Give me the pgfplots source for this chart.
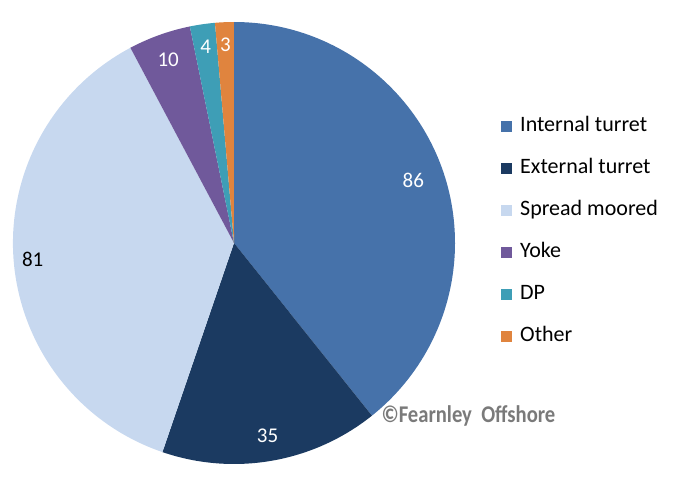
\documentclass[border=0pt]{standalone}
\usepackage{pgfplots}
\usepackage{pgfplotstable}
\pgfplotsset{compat=1.18}
\usepackage{fontspec}
\setmainfont{Carlito}
\newfontfamily\wmfont[FakeStretch=0.86]{Carlito}

% slice colours
\definecolor{s0}{HTML}{4672AA}
\definecolor{s1}{HTML}{1B3A61}
\definecolor{s2}{HTML}{C7D8EF}
\definecolor{s3}{HTML}{70599B}
\definecolor{s4}{HTML}{3E9EB6}
\definecolor{s5}{HTML}{E0843E}

% value, label colour, label distance from the centre
\pgfplotstableread{
value lab lr
86 white 190
35 white 196
81 black 202
10 white 195
4  white 198
3  white 198
}\piedata

\begin{document}
\begin{tikzpicture}
% angles of the slices, clockwise from the top
\pgfplotstablegetrowsof{\piedata}%
\pgfmathtruncatemacro{\nlast}{\pgfplotsretval-1}%
\def\total{0}%
\pgfplotsforeachungrouped \i in {0,...,\nlast}{%
  \pgfplotstablegetelem{\i}{value}\of\piedata%
  \pgfmathsetmacro{\total}{\total+\pgfplotsretval}}%
\def\acc{90}%
\pgfplotsforeachungrouped \i in {0,...,\nlast}{%
  \pgfplotstablegetelem{\i}{value}\of\piedata%
  \expandafter\xdef\csname val\i\endcsname{\pgfplotsretval}%
  \pgfmathsetmacro{\sweep}{\pgfplotsretval/\total*360}%
  \pgfmathsetmacro{\e}{\acc-\sweep}%
  \pgfmathsetmacro{\m}{\acc-\sweep/2}%
  \expandafter\xdef\csname as\i\endcsname{\acc}%
  \expandafter\xdef\csname ae\i\endcsname{\e}%
  \expandafter\xdef\csname am\i\endcsname{\m}%
  \pgfplotstablegetelem{\i}{lr}\of\piedata%
  \expandafter\xdef\csname lr\i\endcsname{\pgfplotsretval}%
  \pgfplotstablegetelem{\i}{lab}\of\piedata%
  \colorlet{t\i}{\pgfplotsretval}%
  \let\acc\e}%
\begin{axis}[
  at={(0,0)}, anchor=south west,
  x=1pt, y=1pt,
  xmin=0, xmax=688, ymin=0, ymax=496,
  hide axis, clip=false,
  legend image code/.code={\fill[#1, draw=none] (0pt,-5.5pt) rectangle (11pt,5.5pt);},
  legend cell align=left,
  legend style={draw=none, fill=none, inner sep=0pt,
    at={(axis cs:501,380)}, anchor=north west,
    font=\fontsize{22}{26}\selectfont,
    nodes={inner sep=0pt, text height=15pt, text depth=5pt},
    row sep=22pt,
    /tikz/every odd column/.style={column sep=8pt}},
]
\pgfplotsinvokeforeach{0,...,5}{
  \fill[s#1] (axis cs:234,253) -- ++(\csname as#1\endcsname:221pt)
    arc[start angle=\csname as#1\endcsname, end angle=\csname ae#1\endcsname, radius=221pt] -- cycle;
}
\pgfplotsinvokeforeach{0,...,5}{
  \path (axis cs:234,253) ++(\csname am#1\endcsname:\csname lr#1\endcsname pt)
    node[text=t#1, font=\fontsize{21}{24}\selectfont] {\csname val#1\endcsname};
}
\node[anchor=west, text=black!52, font=\wmfont\bfseries\fontsize{24}{26}\selectfont]
  at (axis cs:378,80) {©Fearnley\ \ Offshore};

\addlegendimage{fill=s0}\addlegendentry{Internal turret}
\addlegendimage{fill=s1}\addlegendentry{External turret}
\addlegendimage{fill=s2}\addlegendentry{Spread moored}
\addlegendimage{fill=s3}\addlegendentry{Yoke}
\addlegendimage{fill=s4}\addlegendentry{DP}
\addlegendimage{fill=s5}\addlegendentry{Other}
\end{axis}
\pgfresetboundingbox
\path[use as bounding box] (0,0) rectangle (688pt,496pt);
\end{tikzpicture}
\end{document}
